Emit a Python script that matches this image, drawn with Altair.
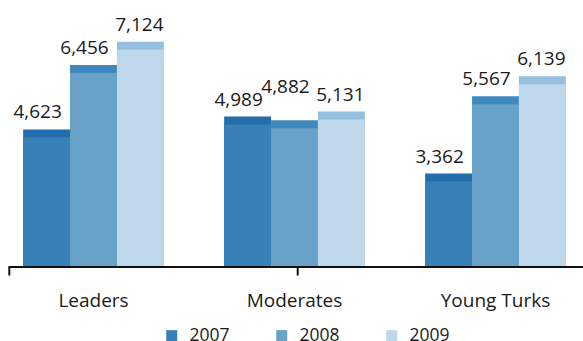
import altair as alt
import pandas as pd

groups = ["Leaders", "Moderates", "Young Turks"]
years = ["2007", "2008", "2009"]
values_2007 = [4623, 4989, 3362]
values_2008 = [6456, 4882, 5567]
values_2009 = [7124, 5131, 6139]

face_colors = ["#3781b8", "#68a2c9", "#bfd7ea"]
cap_colors = ["#226dab", "#3f87bf", "#95bfdf"]
FONT = "Open Sans"
TXT = "#1a1a1a"

Y_MIN, Y_MAX = 700, 7741
PLOT_H = 247

rows = []
for yr, vals in zip(years, [values_2007, values_2008, values_2009]):
    for g, v in zip(groups, vals):
        rows.append({"group": g, "year": yr, "value": v})
df = pd.DataFrame(rows)

# simple label collision avoidance: lift a label that sits too close to its left neighbour's
units_per_px = (Y_MAX - Y_MIN) / PLOT_H
df["label_pos"] = df["value"].astype(float)
for g in groups:
    sub = df[df["group"] == g].sort_values("year")
    prev = None
    for idx, r in sub.iterrows():
        if prev is not None and abs(r["value"] - prev) < 200:
            df.loc[idx, "label_pos"] = r["value"] + 16 * units_per_px
        prev = r["value"]

xenc = alt.X(
    "group:N",
    sort=groups,
    scale=alt.Scale(range=[-17, 586], paddingInner=0.3, paddingOuter=0.15),
    axis=alt.Axis(
        title=None, domain=False, ticks=False, tickSize=0, labelAngle=0,
        labelFont=FONT, labelFontSize=19, labelColor=TXT, labelPadding=24,
    ),
)
yscale = alt.Scale(domain=[Y_MIN, Y_MAX], zero=False, nice=False)

base = alt.Chart(df).encode(
    x=xenc,
    xOffset=alt.XOffset("year:N", sort=years),
    y=alt.Y("value:Q", scale=yscale, axis=None),
)

cap = base.mark_bar(clip=True).encode(
    y2=alt.datum(Y_MIN),
    color=alt.Color("year:N", scale=alt.Scale(domain=years, range=cap_colors), legend=None),
)

face = base.mark_bar(yOffset=8, clip=True).encode(
    y2=alt.datum(Y_MIN),
    color=alt.Color(
        "year:N",
        scale=alt.Scale(domain=years, range=face_colors),
        legend=alt.Legend(
            title=None, orient="none", legendX=153, legendY=306.5,
            direction="horizontal", symbolType="square", symbolSize=121,
            symbolStrokeWidth=0, labelFont=FONT, labelFontSize=17.5,
            labelColor=TXT, labelOffset=9, columnPadding=43, padding=0,
        ),
    ),
)

label_base = alt.Chart(df).encode(
    x=xenc,
    xOffset=alt.XOffset("year:N", sort=years),
    y=alt.Y("label_pos:Q", scale=yscale, axis=None),
    text=alt.Text("value:Q", format=","),
)
labels_a = label_base.transform_filter(alt.datum.year != "2009").mark_text(
    dy=-11, dx=-9, baseline="alphabetic", font=FONT, fontSize=19, color=TXT
)
labels_b = label_base.transform_filter(alt.datum.year == "2009").mark_text(
    dy=-11, dx=-1, baseline="alphabetic", font=FONT, fontSize=19, color=TXT
)

one = pd.DataFrame({"k": [0]})
baseline = alt.Chart(one).mark_rule(color="#111111", strokeWidth=2).encode(
    x=alt.value(-1.5), x2=alt.value(573), y=alt.value(PLOT_H)
)
tick1 = alt.Chart(one).mark_rule(color="#111111", strokeWidth=2).encode(
    x=alt.value(-0.7), y=alt.value(PLOT_H), y2=alt.value(PLOT_H + 8.5)
)
tick2 = alt.Chart(one).mark_rule(color="#111111", strokeWidth=2).encode(
    x=alt.value(287.7), y=alt.value(PLOT_H), y2=alt.value(PLOT_H + 8.5)
)

chart = (
    alt.layer(cap, face, labels_a, labels_b, baseline, tick1, tick2)
    .resolve_scale(color="independent")
    .properties(
        width=573,
        height=PLOT_H,
        autosize=alt.AutoSizeParams(type="none"),
        padding={"left": 10, "top": 20, "right": 0, "bottom": 74},
    )
    .configure_view(stroke=None)
)

chart.save("out.html", embed_options={"renderer": "svg", "actions": False})
